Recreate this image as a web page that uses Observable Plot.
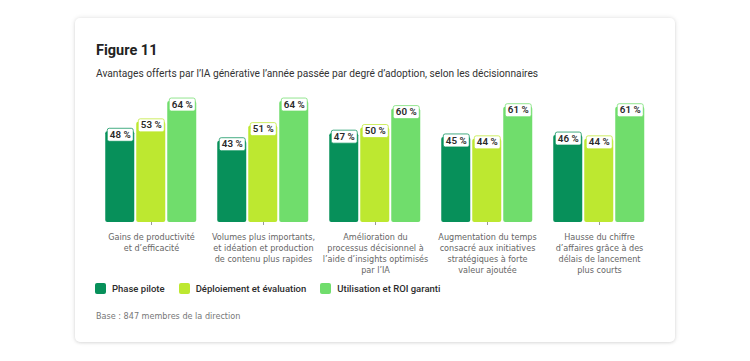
<!DOCTYPE html>
<html>
<head>
<meta charset="utf-8">
<script src="https://cdn.jsdelivr.net/npm/d3@7"></script>
<script src="https://cdn.jsdelivr.net/npm/@observablehq/plot@0.6"></script>
<style>
  html, body { margin: 0; padding: 0; background: #ffffff; width: 750px; height: 361px; overflow: hidden; }
  body { font-family: Roboto, "Open Sans", sans-serif; position: relative; }
  #card { position: absolute; left: 75px; top: 18px; width: 600px; height: 324px; background: #fff;
          border-radius: 5px; box-shadow: 0 0 5px rgba(0,0,0,0.12), 0 1px 3px rgba(0,0,0,0.08); }
  #title { position: absolute; left: 21px; top: 24px; font-size: 14.5px; font-weight: 700; color: #222; }
  #subtitle { position: absolute; left: 21px; top: 50px; font-size: 10.2px; color: #333; white-space: nowrap; }
  #chart { position: absolute; left: 0; top: 62px; }
  #legend { position: absolute; left: 20px; top: 265px; display: flex; align-items: center; font-size: 9.5px; font-weight: 500; color: #2c2c2c; }
  #legend .item { display: flex; align-items: center; margin-right: 14px; }
  #legend .sw { width: 11px; height: 11px; border-radius: 2px; margin-right: 6px; }
  #base { position: absolute; left: 21px; top: 293px; font-size: 9px; color: #777;
          font-family: "Liberation Sans Narrow", "DejaVu Sans Condensed", Roboto, sans-serif; }
</style>
</head>
<body>
<div id="card">
  <div id="title">Figure 11</div>
  <div id="subtitle">Avantages offerts par l’IA générative l’année passée par degré d’adoption, selon les décisionnaires</div>
  <div id="chart"></div>
  <div id="legend"></div>
  <div id="base">Base : 847 membres de la direction</div>
</div>
<script>
const categories = [
  "Gains de productivité\net d’efficacité",
  "Volumes plus importants,\net idéation et production\nde contenu plus rapides",
  "Amélioration du\nprocessus décisionnel à\nl’aide d’insights optimisés\npar l’IA",
  "Augmentation du temps\nconsacré aux initiatives\nstratégiques à forte\nvaleur ajoutée",
  "Hausse du chiffre\nd’affaires grâce à des\ndélais de lancement\nplus courts"
];
const series = ["Phase pilote", "Déploiement et évaluation", "Utilisation et ROI garanti"];
const colors = ["#07905a", "#bde830", "#70dd6c"];
const pilote = [48, 43, 47, 45, 46];
const deploiement = [53, 51, 50, 44, 44];
const utilisation = [64, 64, 60, 61, 61];

const seriesValues = [pilote, deploiement, utilisation];
const data = [];
categories.forEach((c, i) => {
  series.forEach((s, j) => data.push({cat: c, series: s, value: seriesValues[j][i]}));
});

const roundRect = {
  draw(ctx) {
    const w = 13, h = 6.5, r = 2;
    ctx.moveTo(-w + r, -h);
    ctx.lineTo(w - r, -h);
    ctx.arcTo(w, -h, w, -h + r, r);
    ctx.lineTo(w, h - r);
    ctx.arcTo(w, h, w - r, h, r);
    ctx.lineTo(-w + r, h);
    ctx.arcTo(-w, h, -w, h - r, r);
    ctx.lineTo(-w, -h + r);
    ctx.arcTo(-w, -h, -w + r, -h, r);
    ctx.closePath();
  }
};

const chart = Plot.plot({
  width: 600,
  height: 202,
  marginTop: 9.7,
  marginBottom: 60,
  marginLeft: 18.75,
  marginRight: 18.75,
  style: {fontFamily: "Roboto, 'Open Sans', sans-serif", background: "transparent"},
  fx: {domain: categories, paddingInner: 0.165, paddingOuter: 0.0825, label: null},
  x: {domain: series, paddingInner: 0.05, paddingOuter: 0, axis: null},
  y: {domain: [0, 70], axis: null},
  color: {domain: series, range: colors},
  marks: [
    Plot.barY(data, {fx: "cat", x: "series", y: "value", fill: "series", rx: 2}),
    Plot.dot(data, {fx: "cat", x: "series", y: "value", symbol: roundRect, r: 5, fill: "white", stroke: "series", strokeWidth: 1, strokeOpacity: 0.75, dy: 3}),
    Plot.text(data, {fx: "cat", x: "series", y: "value", text: d => `${d.value} %`, dy: 3, fontSize: 9.8, fontWeight: 600, fill: "#2a2a2a"}),
    Plot.axisFx({anchor: "bottom", tickSize: 3, tickPadding: 7, fontSize: 9, lineHeight: 1.22, color: "#666", stroke: "#999", label: null,
      fontFamily: "'Liberation Sans Narrow', 'DejaVu Sans Condensed', Roboto, sans-serif"})
  ]
});
document.getElementById("chart").appendChild(chart);

const legend = document.getElementById("legend");
series.forEach((s, i) => {
  const item = document.createElement("div");
  item.className = "item";
  const sw = document.createElement("div");
  sw.className = "sw";
  sw.style.background = colors[i];
  const t = document.createElement("span");
  t.textContent = s;
  item.appendChild(sw);
  item.appendChild(t);
  legend.appendChild(item);
});
</script>
</body>
</html>
